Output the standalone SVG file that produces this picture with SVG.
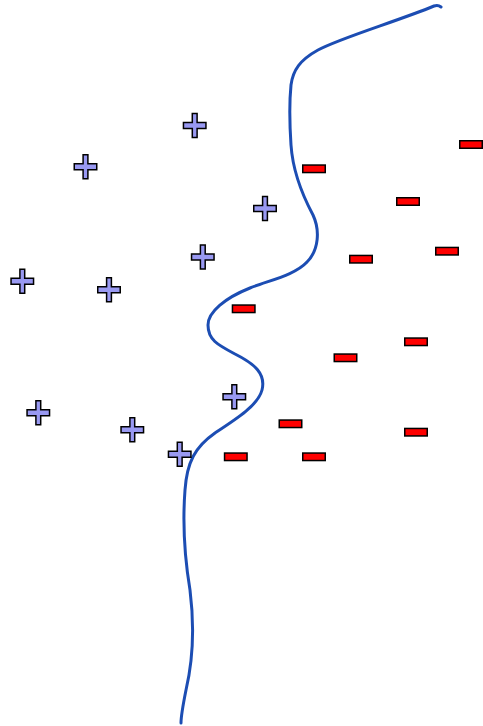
<svg xmlns="http://www.w3.org/2000/svg" xmlns:xlink="http://www.w3.org/1999/xlink" width="483" height="726" viewBox="0 0 483 726">
<style>
.plus{fill:#9999f2;stroke:#000;stroke-width:1.5;stroke-linejoin:miter}
.minus{fill:#ff0000;stroke:#000;stroke-width:1.5}
.boundary{fill:none;stroke:#1c4db3;stroke-width:3;stroke-linecap:round;stroke-linejoin:round}
</style>
<defs>
<path id="p" class="plus" d="M-2.4,-12 H2.4 V-3 H11.25 V3 H2.4 V12 H-2.4 V3 H-11.25 V-3 H-2.4 Z"/>
<rect id="m" class="minus" x="-11.25" y="-3.75" width="22.5" height="7.5"/>
</defs>
<rect width="483" height="726" fill="#fff"/>
<g id="connectors">
<path class="boundary" d="M441,7 Q438,4.5 434,6 C398,21 340,38 318,50 C300,60 293,70 291,85 C289,105 290,130 291,145 C293,175 305,200 313,215 C320,230 319,250 307,262 C295,275 270,280 250,288 C225,298 208,312 208,325 C208,340 218,345 235,354 C255,364 266,374 262,390 C258,405 238,418 215,433 C195,447 187,462 185,490 C182,530 185,560 190,590 C195,630 193,660 186,690 C183,705 181,715 181,723"/>
</g>
<g id="plus1"><use xlink:href="#p" href="#p" x="194.7" y="125.5"/></g>
<g id="plus2"><use xlink:href="#p" href="#p" x="85.5" y="166.7"/></g>
<g id="plus3"><use xlink:href="#p" href="#p" x="265" y="208.5"/></g>
<g id="plus4"><use xlink:href="#p" href="#p" x="202.8" y="257"/></g>
<g id="plus5"><use xlink:href="#p" href="#p" x="22.3" y="281.2"/></g>
<g id="plus6"><use xlink:href="#p" href="#p" x="109" y="289.7"/></g>
<g id="plus7"><use xlink:href="#p" href="#p" x="234.3" y="396.7"/></g>
<g id="plus8"><use xlink:href="#p" href="#p" x="38.3" y="412.8"/></g>
<g id="plus9"><use xlink:href="#p" href="#p" x="132.3" y="429.7"/></g>
<g id="plus10"><use xlink:href="#p" href="#p" x="179.7" y="454.3"/></g>
<g id="minus1"><use xlink:href="#m" href="#m" x="471" y="144.5"/></g>
<g id="minus2"><use xlink:href="#m" href="#m" x="314" y="168.8"/></g>
<g id="minus3"><use xlink:href="#m" href="#m" x="408" y="201.5"/></g>
<g id="minus4"><use xlink:href="#m" href="#m" x="447" y="251.2"/></g>
<g id="minus5"><use xlink:href="#m" href="#m" x="361" y="259.2"/></g>
<g id="minus6"><use xlink:href="#m" href="#m" x="243.7" y="308.8"/></g>
<g id="minus7"><use xlink:href="#m" href="#m" x="416" y="341.8"/></g>
<g id="minus8"><use xlink:href="#m" href="#m" x="345.5" y="357.8"/></g>
<g id="minus9"><use xlink:href="#m" href="#m" x="290.5" y="423.8"/></g>
<g id="minus10"><use xlink:href="#m" href="#m" x="416" y="432.2"/></g>
<g id="minus11"><use xlink:href="#m" href="#m" x="235.8" y="456.8"/></g>
<g id="minus12"><use xlink:href="#m" href="#m" x="314" y="456.8"/></g>
</svg>
